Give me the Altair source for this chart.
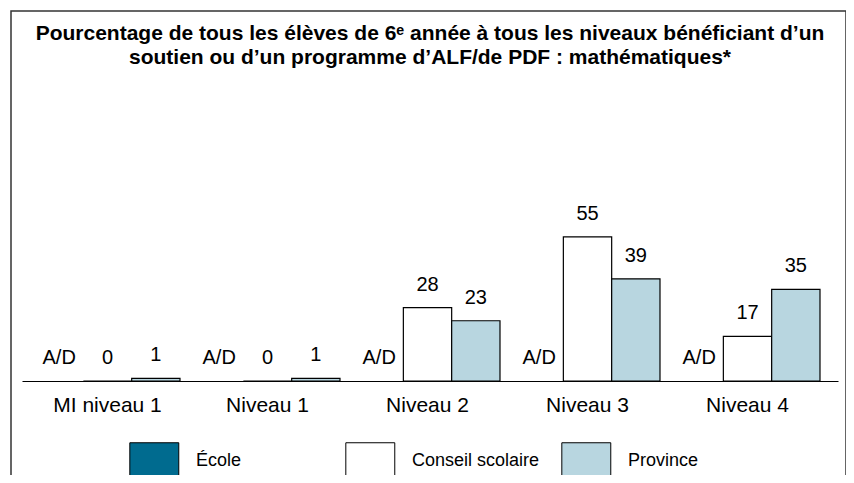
import altair as alt
import pandas as pd

categories = ["MI niveau 1", "Niveau 1", "Niveau 2", "Niveau 3", "Niveau 4"]
series = ["École", "Conseil scolaire", "Province"]
ecole = [None, None, None, None, None]
conseil = [0, 0, 28, 55, 17]
province = [1, 1, 23, 39, 35]
colors = ["#006B8F", "#FFFFFF", "#B8D6E0"]
title_lines = [
    "Pourcentage de tous les élèves de 6ᵉ année à tous les niveaux bénéficiant d’un",
    "soutien ou d’un programme d’ALF/de PDF : mathématiques*",
]

rows = []
for i, c in enumerate(categories):
    for s, vals in zip(series, [ecole, conseil, province]):
        v = vals[i]
        rows.append({
            "category": c,
            "series": s,
            "value": v,
            "pos": v if v is not None else 0,
            "label": str(v) if v is not None else "A/D",
        })
df = pd.DataFrame(rows)

FONT = "Liberation Sans"

x_enc = alt.X(
    "category:N",
    sort=categories,
    scale=alt.Scale(paddingInner=0.094, paddingOuter=0.097, align=0.42),
    axis=alt.Axis(
        title=None, labelAngle=0, ticks=False, domainColor="black",
        domainWidth=1.2, labelFontSize=21, labelPadding=13,
        labelColor="black", labelFont=FONT,
    ),
)
xoff = alt.XOffset("series:N", scale=alt.Scale(domain=series, paddingInner=0, paddingOuter=0))

frame = alt.Chart(pd.DataFrame({"f": [0]})).mark_rect(
    fill="transparent", stroke="#333333", strokeWidth=1.5, clip=False
).encode(
    x=alt.value(-11), x2=alt.value(824), y=alt.value(-108), y2=alt.value(420)
)

bars = alt.Chart(df).mark_bar(stroke="black", strokeWidth=1.2).encode(
    x=x_enc,
    xOffset=xoff,
    y=alt.Y("value:Q", scale=alt.Scale(domain=[0, 100], nice=False), axis=None),
    color=alt.Color(
        "series:N",
        scale=alt.Scale(domain=series, range=colors),
        legend=alt.Legend(
            title=None, orient="none", direction="horizontal",
            legendX=113.8, legendY=323,
            symbolType="M-1.36,-1L1.36,-1L1.36,1L-1.36,1Z",
            symbolSize=1296, symbolStrokeColor="black", symbolStrokeWidth=1,
            symbolOpacity=1,
            labelFontSize=18, labelFont=FONT, labelColor="black",
            labelOffset=23.2, columnPadding=20, gridAlign="all",
        ),
    ),
)

texts = alt.Chart(df).mark_text(
    baseline="middle", dy=-23, fontSize=20, font=FONT, color="black"
).encode(
    x=x_enc,
    xOffset=xoff,
    y=alt.Y("pos:Q", scale=alt.Scale(domain=[0, 100], nice=False), axis=None),
    text="label:N",
)

chart = alt.layer(frame, bars, texts).properties(
    width=816,
    height=262,
    autosize="none",
    padding={"left": 14, "top": 111, "right": 8, "bottom": 94},
    title=alt.TitleParams(
        text=title_lines, fontSize=21, fontWeight="bold", font=FONT,
        color="black", anchor="middle", lineHeight=24, offset=-58,
        frame="group",
    ),
).configure_view(stroke=None).configure_axis(grid=False)

chart.save("out.html", embed_options={"renderer": "svg", "actions": False})
